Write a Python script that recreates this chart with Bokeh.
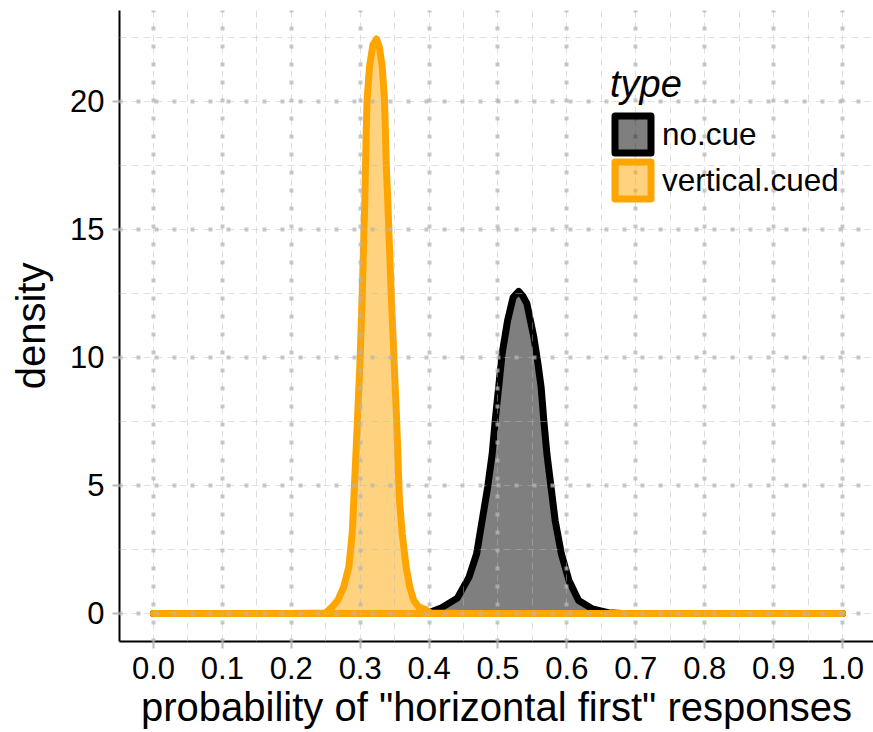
from bokeh.plotting import figure
from bokeh.models import (FixedTicker, Range1d, Legend, LegendItem, Grid)
from bokeh.embed import file_html
from bokeh.resources import INLINE

# ---- data ----
no_cue_x = [0.0, 0.38, 0.40, 0.4166, 0.441, 0.458, 0.469, 0.477, 0.485, 0.4916, 0.496,
            0.501, 0.506, 0.514, 0.522, 0.530, 0.536, 0.542, 0.552, 0.558, 0.5626, 0.5665,
            0.571, 0.577, 0.583, 0.592, 0.603, 0.617, 0.637, 0.66, 0.68, 1.0]
no_cue_y = [0.0, 0.0, 0.04, 0.2, 0.6, 1.42, 2.33, 3.63, 4.93, 6.24, 7.54,
            8.84, 10.14, 11.45, 12.35, 12.58, 12.4, 12.1, 10.8, 9.76, 8.84, 7.54,
            6.24, 4.93, 3.63, 2.33, 1.29, 0.51, 0.18, 0.03, 0.0, 0.0]

vcued_x = [0.0, 0.2, 0.25, 0.259, 0.2675, 0.276, 0.2835, 0.2884, 0.2907, 0.296, 0.300,
           0.303, 0.3067, 0.3087, 0.310, 0.3135, 0.3185, 0.3237, 0.328, 0.332, 0.3353,
           0.3367, 0.338, 0.340, 0.345, 0.349, 0.353, 0.357, 0.361, 0.3667, 0.372,
           0.3778, 0.385, 0.395, 0.402, 0.45, 1.0]
vcued_y = [0.0, 0.0, 0.02, 0.25, 0.51, 1.03, 1.81, 3.12, 4.41, 7.5, 10.0,
           12.5, 16.13, 18.74, 20.04, 21.34, 22.2, 22.44, 22.1, 21.34, 20.04,
           18.74, 17.43, 16.13, 12.5, 10.0, 7.5, 4.41, 3.12, 1.81, 1.03,
           0.51, 0.25, 0.15, 0.02, 0.0, 0.0]

types = ["no.cue", "vertical.cued"]
x_ticks = [0.0, 0.1, 0.2, 0.3, 0.4, 0.5, 0.6, 0.7, 0.8, 0.9, 1.0]
x_tick_labels = ["0.0", "0.1", "0.2", "0.3", "0.4", "0.5", "0.6", "0.7", "0.8", "0.9", "1.0"]
x_minor = [0.05, 0.15, 0.25, 0.35, 0.45, 0.55, 0.65, 0.75, 0.85, 0.95]
y_ticks = [0, 5, 10, 15, 20]
y_minor = [2.5, 7.5, 12.5, 17.5, 22.5]

FONT = "Liberation Sans"

p = figure(width=873, height=732, output_backend="svg", toolbar_location=None,
           x_range=Range1d(-0.0493, 1.045), y_range=Range1d(-1.094, 23.55),
           min_border_left=119, min_border_top=10, min_border_right=0, min_border_bottom=91)
p.outline_line_color = None
p.background_fill_color = "white"
p.border_fill_color = "white"
p.grid.visible = False

r1 = p.patch(no_cue_x, no_cue_y, fill_color="black", fill_alpha=0.5,
             line_color="black", line_width=7, line_join="round")
r2 = p.patch(vcued_x, vcued_y, fill_color="orange", fill_alpha=0.5,
             line_color="orange", line_width=7, line_join="round")

xt = FixedTicker(ticks=x_ticks, minor_ticks=x_minor)
yt = FixedTicker(ticks=y_ticks, minor_ticks=y_minor)
p.xaxis.ticker = xt
p.yaxis.ticker = yt
p.xaxis.major_label_overrides = {t: l for t, l in zip(x_ticks, x_tick_labels)}

for ax in (p.xaxis[0], p.yaxis[0]):
    ax.axis_line_color = "black"
    ax.axis_line_width = 2
    ax.major_tick_line_color = "#bbbbbb"
    ax.major_tick_line_width = 2
    ax.major_tick_out = 7
    ax.major_tick_in = 0
    ax.minor_tick_line_color = None
    ax.major_label_text_font = FONT
    ax.major_label_text_font_size = "31px"
    ax.major_label_text_color = "black"
    ax.axis_label_text_font = FONT
    ax.axis_label_text_font_size = "40px"
    ax.axis_label_text_font_style = "normal"
    ax.axis_label_text_color = "black"
    ax.major_label_standoff = 8

p.xaxis.axis_label = 'probability of "horizontal first" responses'
p.yaxis.axis_label = "density"
p.xaxis.axis_label_standoff = 3
p.yaxis.axis_label_standoff = 14

# grids drawn on top of the data
for dim, tk in ((0, xt), (1, yt)):
    g1 = Grid(dimension=dim, ticker=tk, level="overlay",
              grid_line_color="#bbbbbb", grid_line_alpha=0.45, grid_line_width=1,
              grid_line_dash="7 5",
              minor_grid_line_color="#bbbbbb", minor_grid_line_alpha=0.45,
              minor_grid_line_width=1, minor_grid_line_dash="7 5")
    g2 = Grid(dimension=dim, ticker=tk, level="overlay",
              grid_line_color="#b5b5b5", grid_line_alpha=0.75, grid_line_width=4,
              grid_line_dash="4 14", grid_line_dash_offset=1)
    p.add_layout(g1)
    p.add_layout(g2)

legend = Legend(items=[LegendItem(label=types[0], renderers=[r1]),
                       LegendItem(label=types[1], renderers=[r2])],
                location=(491, 438), title="type")
legend.title_text_font = FONT
legend.title_text_font_size = "38px"
legend.title_text_font_style = "italic"
legend.title_text_color = "black"
legend.title_standoff = 5
legend.label_text_font = FONT
legend.label_text_font_size = "31.5px"
legend.label_text_color = "black"
legend.glyph_width = 45
legend.glyph_height = 46
legend.label_standoff = 7
legend.spacing = 0
legend.padding = 0
legend.margin = 0
legend.background_fill_alpha = 0
legend.border_line_alpha = 0
p.add_layout(legend)

open("out.html", "w").write(file_html(p, INLINE))
